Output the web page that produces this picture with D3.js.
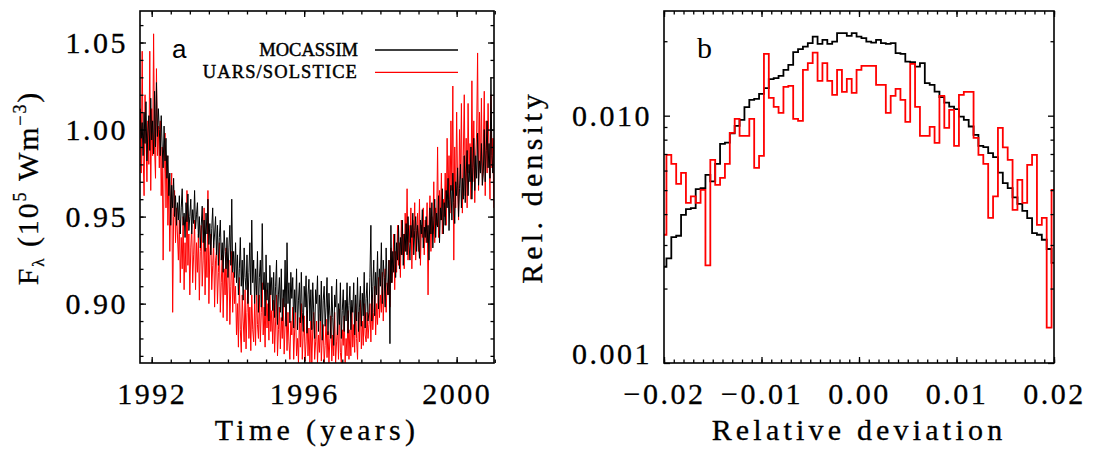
<!DOCTYPE html>
<html><head><meta charset="utf-8">
<script src="https://cdn.jsdelivr.net/npm/d3@7"></script>
<style>
body{margin:0;background:#fff;}
svg text{font-family:"Liberation Serif","Times New Roman",serif;fill:#000;}
</style></head><body>
<svg id="chart" width="1094" height="450"></svg>
<script>
// ---------- Panel a: time series (one value every 0.025 yr) ----------
const timeStart = 1991.700, timeStep = 0.025;
const mocassim = [
1.012,0.995,1.004,0.985,1.010,0.992,1.016,0.982,0.998,1.008,0.988,1.018,0.994,1.005,0.986,1.022,0.990,1.027,0.996,1.012,
1.000,0.985,1.008,0.990,0.978,1.002,0.982,0.995,0.972,0.985,0.962,0.975,0.945,0.968,0.955,0.972,0.950,0.962,0.945,0.958,
0.948,0.962,0.940,0.955,0.966,0.945,0.952,0.938,0.958,0.947,0.963,0.942,0.950,0.960,0.940,0.954,0.946,0.965,0.943,0.951,
0.958,0.938,0.950,0.932,0.945,0.956,0.935,0.948,0.930,0.952,0.940,0.960,0.934,0.946,0.928,0.943,0.955,0.932,0.940,0.950,
0.928,0.945,0.922,0.938,0.948,0.925,0.935,0.918,0.942,0.930,0.920,0.938,0.915,0.932,0.945,0.922,0.960,0.918,0.930,0.915,
0.935,0.912,0.928,0.905,0.920,0.938,0.910,0.925,0.902,0.932,0.915,0.908,0.928,0.900,0.918,0.935,0.905,0.948,0.912,0.925,
0.900,0.920,0.905,0.930,0.895,0.915,0.925,0.898,0.946,0.908,0.918,0.893,0.928,0.902,0.912,0.890,0.922,0.905,0.915,0.896,
0.918,0.892,0.910,0.925,0.888,0.905,0.915,0.895,0.920,0.890,0.908,0.898,0.925,0.887,0.935,0.900,0.912,0.889,0.918,0.903,
0.915,0.886,0.908,0.895,0.920,0.885,0.902,0.912,0.889,0.918,0.895,0.884,0.910,0.898,0.916,0.883,0.905,0.914,0.890,0.908,
0.885,0.912,0.895,0.880,0.908,0.900,0.916,0.884,0.905,0.890,0.913,0.879,0.902,0.910,0.887,0.898,0.915,0.882,0.906,0.893,
0.880,0.910,0.892,0.876,0.905,0.898,0.914,0.882,0.900,0.888,0.912,0.880,0.896,0.908,0.884,0.902,0.890,0.912,0.883,0.899,
0.910,0.885,0.902,0.895,0.912,0.882,0.905,0.890,0.915,0.884,0.898,0.910,0.887,0.906,0.893,0.918,0.886,0.903,0.912,0.890,
0.895,0.915,0.945,0.890,0.910,0.925,0.893,0.918,0.905,0.930,0.897,0.920,0.910,0.935,0.900,0.925,0.915,0.898,0.932,0.912,
0.905,0.925,0.877,0.945,0.912,0.930,0.918,0.940,0.915,0.935,0.925,0.945,0.920,0.938,0.928,0.948,0.922,0.940,0.930,0.946,
0.928,0.950,0.935,0.925,0.945,0.938,0.952,0.928,0.942,0.950,0.930,0.945,0.936,0.926,0.948,0.940,0.954,0.932,0.944,0.938,
0.950,0.935,0.945,0.925,0.955,0.940,0.958,0.932,0.948,0.960,0.938,0.952,0.944,0.962,0.935,0.955,0.948,0.966,0.940,0.958,
0.945,0.965,0.955,0.972,0.942,0.960,0.968,0.948,0.975,0.958,0.946,0.970,0.962,0.978,0.950,0.966,0.980,0.955,0.972,0.960,
0.985,0.958,0.975,0.988,0.962,0.980,0.970,0.990,0.960,0.978,0.995,0.965,0.985,0.972,0.998,0.968,0.982,0.975,0.992,0.968,
0.975,1.000,0.970,0.988,1.005,0.978,0.992,0.972,1.030,0.985,0.975,0.995];
const uars = [
1.010,0.975,1.045,0.985,0.962,1.020,0.995,0.970,1.005,0.980,1.045,0.965,1.012,0.985,1.055,0.990,0.972,1.035,0.985,1.002,
0.978,1.005,0.962,0.990,0.925,0.975,0.998,0.955,0.985,0.945,0.970,0.930,0.960,0.975,0.895,0.950,0.965,0.935,0.955,0.940,
0.925,0.948,0.912,0.938,0.920,0.950,0.908,0.935,0.918,0.965,0.922,0.940,0.905,0.932,0.945,0.912,0.928,0.948,0.908,0.935,
0.918,0.940,0.902,0.930,0.945,0.910,0.925,0.955,0.905,0.932,0.915,0.965,0.900,0.928,0.940,0.908,0.922,0.935,0.898,0.925,
0.930,0.900,0.918,0.935,0.895,0.912,0.928,0.892,0.920,0.905,0.932,0.890,0.915,0.925,0.888,0.910,0.930,0.895,0.918,0.900,
0.910,0.882,0.900,0.875,0.915,0.885,0.872,0.905,0.890,0.878,0.908,0.874,0.895,0.912,0.880,0.898,0.873,0.905,0.885,0.878,
0.900,0.876,0.910,0.888,0.880,0.905,0.878,0.895,0.912,0.882,0.898,0.875,0.908,0.886,0.900,0.879,0.910,0.884,0.896,0.877,
0.902,0.872,0.890,0.905,0.870,0.885,0.898,0.874,0.892,0.880,0.903,0.871,0.888,0.900,0.873,0.895,0.878,0.868,0.890,0.882,
0.898,0.868,0.885,0.895,0.870,0.880,0.866,0.892,0.875,0.900,0.868,0.883,0.893,0.867,0.878,0.896,0.870,0.886,0.866,0.890,
0.866,0.885,0.895,0.868,0.878,0.890,0.866,0.882,0.872,0.894,0.867,0.880,0.888,0.866,0.876,0.891,0.869,0.884,0.866,0.880,
0.893,0.867,0.882,0.870,0.895,0.866,0.878,0.888,0.868,0.897,0.872,0.866,0.885,0.876,0.893,0.866,0.880,0.870,0.896,0.868,
0.885,0.870,0.898,0.875,0.888,0.872,0.900,0.880,0.868,0.895,0.878,0.902,0.874,0.890,0.876,0.900,0.882,0.878,0.895,0.880,
0.888,0.900,0.878,0.905,0.885,0.895,0.910,0.882,0.900,0.888,0.915,0.892,0.905,0.895,0.918,0.890,0.910,0.920,0.895,0.912,
0.905,0.925,0.898,0.932,0.912,0.920,0.940,0.908,0.930,0.918,0.945,0.922,0.935,0.915,0.948,0.928,0.940,0.920,0.952,0.930,
0.966,0.925,0.945,0.935,0.955,0.920,0.948,0.938,0.958,0.925,0.942,0.952,0.930,0.960,0.922,0.945,0.938,0.955,0.928,0.948,
0.935,0.958,0.905,0.945,0.962,0.930,0.950,0.940,0.970,0.935,0.955,0.945,0.990,0.938,0.965,0.948,0.975,0.940,0.960,0.950,
0.975,0.945,0.995,0.960,0.985,0.952,1.005,0.965,1.025,0.925,0.990,0.955,1.010,0.968,0.948,1.000,0.972,1.015,0.952,0.985,
1.020,0.962,0.995,0.955,1.015,0.975,0.992,0.960,1.028,0.970,1.005,0.958,0.985,0.998,1.044,0.965,1.010,0.975,1.018,0.968,
0.990,1.022,0.962,1.005,0.975,1.015,0.985,0.960,1.020,0.978,0.995,0.955];
const yearTicks = [1992, 1996, 2000];
const fluxTicks = [0.90, 0.95, 1.00, 1.05];
const seriesNames = ["MOCASSIM", "UARS/SOLSTICE"];

// ---------- Panel b: histograms ----------
const binStart = -0.02, binStep = 0.0005;
const mocassimHist = [
0.00245,0.00265,0.00323,0.00327,0.00397,0.00419,0.00423,0.00505,0.00509,0.00576,
0.00542,0.00638,0.00769,0.00778,0.00849,0.00910,0.00962,0.01082,0.01159,0.01169,
0.01225,0.01292,0.01405,0.01418,0.01449,0.01532,0.01605,0.01806,0.01857,0.01903,
0.01964,0.02089,0.01951,0.02025,0.01951,0.01994,0.02156,0.02156,0.02103,0.02156,
0.02089,0.02057,0.01994,0.01975,0.02025,0.01964,0.01951,0.01964,0.01789,0.01778,
0.01655,0.01645,0.01579,0.01630,0.01353,0.01332,0.01252,0.01188,0.01130,0.01088,
0.01062,0.00992,0.00962,0.00904,0.00836,0.00755,0.00746,0.00705,0.00680,0.00589,
0.00534,0.00509,0.00467,0.00440,0.00412,0.00385,0.00335,0.00330,0.00315,0.00289,
0.00254];
const uarsHist = [
0.00330,0.00694,0.00638,0.00530,0.00587,0.00444,0.00472,0.00444,0.00501,0.00248,
0.00663,0.00525,0.00560,0.00638,0.00852,0.00971,0.00828,0.00828,0.00971,0.00615,
0.00688,0.01778,0.01180,0.01085,0.01026,0.01307,0.01320,0.00971,0.00953,0.01532,
0.01630,0.01799,0.01383,0.01630,0.01383,0.01214,0.01532,0.01248,0.01409,0.01237,
0.01532,0.01590,0.01590,0.01590,0.01332,0.01332,0.01026,0.01203,0.01283,0.01159,
0.00944,0.01620,0.01085,0.00828,0.00828,0.00901,0.00776,0.01203,0.00893,0.01056,
0.00755,0.01214,0.01248,0.01248,0.00813,0.00694,0.00638,0.00386,0.00472,0.00893,
0.00744,0.00663,0.00416,0.00550,0.00444,0.00632,0.00694,0.00362,0.00386,0.00139,
0.00501];
const devTicks = [-0.02, -0.01, 0.00, 0.01, 0.02];
const densTicks = [0.001, 0.010];

// ---------- drawing ----------
const svg = d3.select("#chart");
const xA = d3.scaleLinear().domain([1991.693, 2000.98]).range([140, 494]);
const yA = d3.scaleLinear().domain([0.8659, 1.0681]).range([363, 11]);
const xB = d3.scaleLinear().domain([-0.02, 0.02]).range([664, 1054]);
const yB = d3.scaleLog().domain([0.001, 0.0265]).range([363, 11]);

const fmtMinus = s => s.replace("-", "\u2212");

function tickSet(maker, scale, values, len, fmt, tx, ty, pad) {
  const g = svg.append("g").attr("transform", `translate(${tx},${ty})`)
    .call(maker(scale).tickValues(values).tickSizeInner(-len).tickSizeOuter(0)
      .tickPadding(pad).tickFormat(fmt || (() => "")));
  g.attr("font-family", null).attr("font-size", null);
  g.select(".domain").remove();
  g.selectAll(".tick line").attr("stroke", "#000").attr("stroke-width", 1.3);
  g.selectAll(".tick text").attr("fill", "#000")
    .style("font-size", "30px").style("letter-spacing", "2.5px")
    .attr("stroke", "#000").attr("stroke-width", 0.3);
  return g;
}

function frame(x, y) {
  const [x0, x1] = x.range(), [y0, y1] = y.range();
  svg.append("rect").attr("x", x0).attr("y", y1).attr("width", x1 - x0).attr("height", y0 - y1)
    .attr("fill", "none").attr("stroke", "#000").attr("stroke-width", 1.6);
}

// ---- Panel a ----
svg.append("clipPath").attr("id", "clipA").append("rect")
  .attr("x", 140).attr("y", 11).attr("width", 354).attr("height", 352);
const tA = i => timeStart + i * timeStep;
const lineA = d3.line().x((d, i) => xA(tA(i))).y(d => yA(d));
const gA = svg.append("g").attr("clip-path", "url(#clipA)");
gA.append("path").datum(uars).attr("d", lineA).attr("fill", "none")
  .attr("stroke", "#ff0000").attr("stroke-width", 1);
gA.append("path").datum(mocassim).attr("d", lineA).attr("fill", "none")
  .attr("stroke", "#000").attr("stroke-width", 1);

const yearMinor = d3.range(1992, 2001.01, 0.5);
const fluxMinor = d3.range(0.87, 1.0681, 0.01);
tickSet(d3.axisBottom, xA, yearTicks, 6, d => String(d), 0, 363, 20);
tickSet(d3.axisBottom, xA, yearMinor, 3.5, null, 0, 363, 0);
tickSet(d3.axisTop, xA, yearTicks, 6, null, 0, 11, 0);
tickSet(d3.axisTop, xA, yearMinor, 3.5, null, 0, 11, 0);
tickSet(d3.axisLeft, yA, fluxTicks, 6, d3.format(".2f"), 140, 0, 12);
tickSet(d3.axisLeft, yA, fluxMinor, 3.5, null, 140, 0, 0);
tickSet(d3.axisRight, yA, fluxTicks, 6, null, 494, 0, 0);
tickSet(d3.axisRight, yA, fluxMinor, 3.5, null, 494, 0, 0);
frame(xA, yA);

// legend a
const legend = svg.append("g");
const legColors = ["#000", "#ff0000"];
const legSpacing = [0, 1.1];
seriesNames.forEach((n, i) => {
  legend.append("text").attr("x", 358).attr("y", 56 + i * 22.3).attr("text-anchor", "end")
    .style("font-size", "18.5px").style("letter-spacing", legSpacing[i] + "px")
    .attr("stroke", "#000").attr("stroke-width", 0.45).text(n);
  legend.append("line").attr("x1", 375).attr("x2", 458).attr("y1", 50 + i * 22.3).attr("y2", 50 + i * 22.3)
    .attr("stroke", legColors[i]).attr("stroke-width", 1.3);
});
svg.append("text").attr("x", 172).attr("y", 58)
  .style("font-family", '"Liberation Sans",Arial,sans-serif').style("font-size", "26px").text("a");

// axis titles a
svg.append("text").attr("x", 317).attr("y", 440).attr("text-anchor", "middle")
  .style("font-size", "30px").style("letter-spacing", "4.3px")
  .attr("stroke", "#000").attr("stroke-width", 0.3).text("Time (years)");
const ty = svg.append("text").attr("transform", "translate(38,188) rotate(-90)")
  .attr("text-anchor", "middle").style("font-size", "30px").style("letter-spacing", "1.9px")
  .attr("stroke", "#000").attr("stroke-width", 0.3);
ty.append("tspan").text("F");
ty.append("tspan").attr("dy", 6).style("font-size", "17px").text("\u03bb");
ty.append("tspan").attr("dy", -6).text(" (10");
ty.append("tspan").attr("dy", -12).style("font-size", "18px").text("5");
ty.append("tspan").attr("dy", 12).text(" Wm");
ty.append("tspan").attr("dy", -12).style("font-size", "18px").text("\u22123");
ty.append("tspan").attr("dy", 12).text(")");

// ---- Panel b ----
const lineB = d3.line().x((d, i) => xB(binStart + i * binStep)).y(d => yB(d)).curve(d3.curveStep);
svg.append("path").datum(mocassimHist).attr("d", lineB).attr("fill", "none")
  .attr("stroke", "#000").attr("stroke-width", 1.8);
svg.append("path").datum(uarsHist).attr("d", lineB).attr("fill", "none")
  .attr("stroke", "#ff0000").attr("stroke-width", 1.8);

const devMinor = d3.range(-0.02, 0.02001, 0.001);
const densMinor = [0.002,0.003,0.004,0.005,0.006,0.007,0.008,0.009,0.02];
tickSet(d3.axisBottom, xB, devTicks, 6, d => fmtMinus(d3.format(".2f")(d)), 0, 363, 20);
tickSet(d3.axisBottom, xB, devMinor, 3.5, null, 0, 363, 0);
tickSet(d3.axisTop, xB, devTicks, 6, null, 0, 11, 0);
tickSet(d3.axisTop, xB, devMinor, 3.5, null, 0, 11, 0);
const lb = tickSet(d3.axisLeft, yB, densTicks, 6, d3.format(".3f"), 664, 0, 12);
lb.selectAll(".tick text").filter(d => d === 0.001).attr("dy", "0");
tickSet(d3.axisLeft, yB, densMinor, 3.5, null, 664, 0, 0);
tickSet(d3.axisRight, yB, densTicks, 6, null, 1054, 0, 0);
tickSet(d3.axisRight, yB, densMinor, 3.5, null, 1054, 0, 0);
frame(xB, yB);

svg.append("text").attr("x", 697).attr("y", 58).style("font-size", "30px").text("b");
svg.append("text").attr("x", 859).attr("y", 440).attr("text-anchor", "middle")
  .style("font-size", "30px").style("letter-spacing", "4.2px")
  .attr("stroke", "#000").attr("stroke-width", 0.3).text("Relative deviation");
svg.append("text").attr("transform", "translate(542,187) rotate(-90)").attr("text-anchor", "middle")
  .style("font-size", "30px").style("letter-spacing", "4.2px")
  .attr("stroke", "#000").attr("stroke-width", 0.3).text("Rel. density");
</script>
</body></html>
